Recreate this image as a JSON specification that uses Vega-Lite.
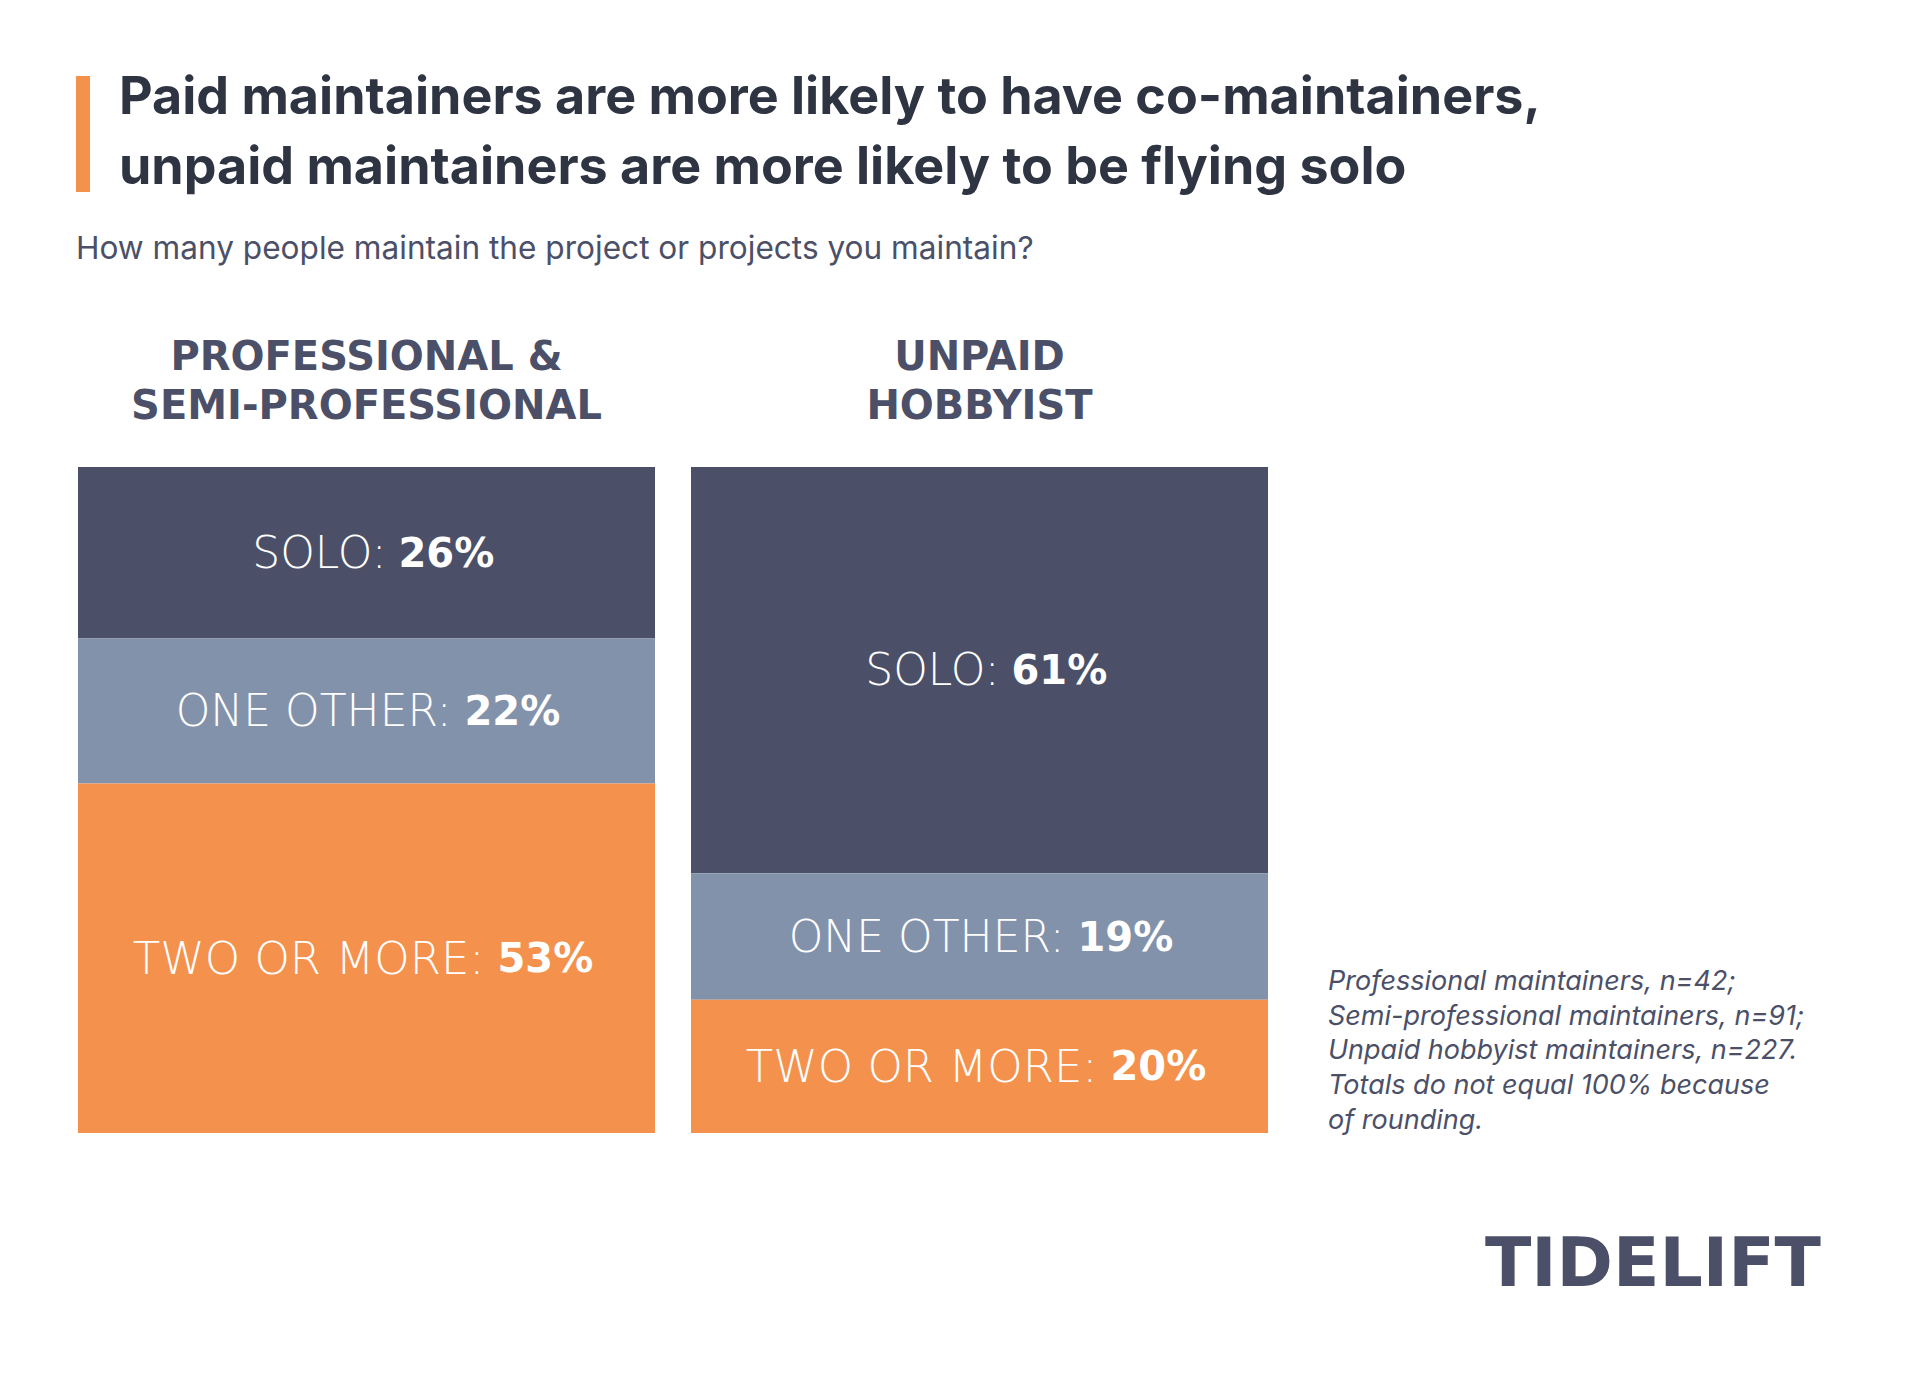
{
  "$schema": "https://vega.github.io/schema/vega-lite/v6.json",
  "width": 1190,
  "height": 666,
  "autosize": {"type": "none"},
  "padding": {"left": 78, "top": 467, "right": 651, "bottom": 258},
  "background": "#ffffff",
  "config": {"view": {"stroke": null}},
  "layer": [
    {
      "data": {
        "values": [
          {"group": "PROFESSIONAL & SEMI-PROFESSIONAL", "category": "Solo", "label": "SOLO:", "pct": 0.26, "ord": 3},
          {"group": "PROFESSIONAL & SEMI-PROFESSIONAL", "category": "One other", "label": "ONE OTHER:", "pct": 0.22, "ord": 2},
          {"group": "PROFESSIONAL & SEMI-PROFESSIONAL", "category": "Two or more", "label": "TWO OR MORE:", "pct": 0.53, "ord": 1},
          {"group": "UNPAID HOBBYIST", "category": "Solo", "label": "SOLO:", "pct": 0.61, "ord": 3},
          {"group": "UNPAID HOBBYIST", "category": "One other", "label": "ONE OTHER:", "pct": 0.19, "ord": 2},
          {"group": "UNPAID HOBBYIST", "category": "Two or more", "label": "TWO OR MORE:", "pct": 0.20, "ord": 1}
        ]
      },
      "transform": [
        {"stack": "pct", "groupby": ["group"], "sort": [{"field": "ord", "order": "ascending"}], "offset": "normalize", "as": ["y0", "y1"]},
        {"calculate": "(datum.y0 + datum.y1) / 2", "as": "mid"}
      ],
      "layer": [
        {
          "mark": {"type": "bar"},
          "encoding": {
            "x": {
              "field": "group", "type": "nominal",
              "scale": {"domain": ["PROFESSIONAL & SEMI-PROFESSIONAL", "UNPAID HOBBYIST"], "paddingInner": 0.0587, "paddingOuter": 0},
              "axis": {
                "orient": "top", "title": null, "domain": false, "ticks": false, "tickSize": 0, "labelAngle": 0,
                "labelExpr": "datum.value == 'UNPAID HOBBYIST' ? ['UNPAID', 'HOBBYIST'] : ['PROFESSIONAL &', 'SEMI-PROFESSIONAL']",
                "labelFont": "DejaVu Sans", "labelFontWeight": "bold", "labelFontSize": 40, "labelColor": "#4b5068",
                "labelLineHeight": 49, "labelPadding": 90, "labelLimit": 0
              }
            },
            "y": {"field": "y1", "type": "quantitative", "scale": {"domain": [0, 1], "nice": false, "zero": false}, "axis": null},
            "y2": {"field": "y0"},
            "color": {
              "field": "category", "type": "nominal",
              "scale": {"domain": ["Solo", "One other", "Two or more"], "range": ["#4b5068", "#8392ab", "#f4914d"]},
              "legend": null
            }
          }
        },
        {
          "transform": [{"filter": "datum.category == 'Solo'"}],
          "mark": {"type": "text", "align": "right", "baseline": "middle", "dx": 20, "dy": 2, "font": "DejaVu Sans", "fontWeight": 200, "fontSize": 44, "color": "#ffffff"},
          "encoding": {"x": {"field": "group", "type": "nominal"}, "y": {"field": "mid", "type": "quantitative", "axis": null}, "text": {"field": "label"}}
        },
        {
          "transform": [{"filter": "datum.category == 'One other'"}],
          "mark": {"type": "text", "align": "right", "baseline": "middle", "dx": 85, "dy": 2, "font": "DejaVu Sans", "fontWeight": 200, "fontSize": 44, "color": "#ffffff"},
          "encoding": {"x": {"field": "group", "type": "nominal"}, "y": {"field": "mid", "type": "quantitative", "axis": null}, "text": {"field": "label"}}
        },
        {
          "transform": [{"filter": "datum.category == 'Two or more'"}],
          "mark": {"type": "text", "align": "right", "baseline": "middle", "dx": 118, "dy": 2, "font": "DejaVu Sans", "fontWeight": 200, "fontSize": 45, "color": "#ffffff"},
          "encoding": {"x": {"field": "group", "type": "nominal"}, "y": {"field": "mid", "type": "quantitative", "axis": null}, "text": {"field": "label"}}
        },
        {
          "transform": [{"filter": "datum.category == 'Solo'"}],
          "mark": {"type": "text", "align": "left", "baseline": "middle", "dx": 32, "dy": 2, "font": "DejaVu Sans", "fontWeight": "bold", "fontSize": 40, "color": "#ffffff"},
          "encoding": {"x": {"field": "group", "type": "nominal"}, "y": {"field": "mid", "type": "quantitative", "axis": null}, "text": {"field": "pct", "type": "quantitative", "format": ".0%"}}
        },
        {
          "transform": [{"filter": "datum.category == 'One other'"}],
          "mark": {"type": "text", "align": "left", "baseline": "middle", "dx": 98, "dy": 2, "font": "DejaVu Sans", "fontWeight": "bold", "fontSize": 40, "color": "#ffffff"},
          "encoding": {"x": {"field": "group", "type": "nominal"}, "y": {"field": "mid", "type": "quantitative", "axis": null}, "text": {"field": "pct", "type": "quantitative", "format": ".0%"}}
        },
        {
          "transform": [{"filter": "datum.category == 'Two or more'"}],
          "mark": {"type": "text", "align": "left", "baseline": "middle", "dx": 131, "dy": 2, "font": "DejaVu Sans", "fontWeight": "bold", "fontSize": 40, "color": "#ffffff"},
          "encoding": {"x": {"field": "group", "type": "nominal"}, "y": {"field": "mid", "type": "quantitative", "axis": null}, "text": {"field": "pct", "type": "quantitative", "format": ".0%"}}
        }
      ]
    },
    {
      "data": {"values": [{"accent": "title accent"}]},
      "mark": {"type": "rule", "strokeWidth": 14, "color": "#f4914d", "strokeCap": "butt"},
      "encoding": {
        "x": {"datum": "PROFESSIONAL & SEMI-PROFESSIONAL", "type": "nominal", "bandPosition": 0.0087},
        "y": {"datum": 1.5871, "type": "quantitative", "axis": null},
        "y2": {"datum": 1.4129}
      }
    },
    {
      "data": {"values": [{"t": "Paid maintainers are more likely to have co-maintainers,\nunpaid maintainers are more likely to be flying solo"}]},
      "mark": {"type": "text", "align": "left", "baseline": "middle", "lineBreak": "\n", "lineHeight": 70, "dx": 41, "font": "Inter", "fontWeight": 700, "fontSize": 52, "color": "#2f3443"},
      "encoding": {
        "x": {"datum": "PROFESSIONAL & SEMI-PROFESSIONAL", "type": "nominal", "bandPosition": 0},
        "y": {"datum": 1.5541, "type": "quantitative", "axis": null},
        "text": {"field": "t"}
      }
    },
    {
      "data": {"values": [{"t": "How many people maintain the project or projects you maintain?"}]},
      "mark": {"type": "text", "align": "left", "baseline": "middle", "dx": -2, "font": "Inter", "fontWeight": 400, "fontSize": 31.6, "color": "#4b5068"},
      "encoding": {
        "x": {"datum": "PROFESSIONAL & SEMI-PROFESSIONAL", "type": "nominal", "bandPosition": 0},
        "y": {"datum": 1.3258, "type": "quantitative", "axis": null},
        "text": {"field": "t"}
      }
    },
    {
      "data": {"values": [{"t": "Professional maintainers, n=42;\nSemi-professional maintainers, n=91;\nUnpaid hobbyist maintainers, n=227.\nTotals do not equal 100% because\nof rounding."}]},
      "mark": {"type": "text", "align": "left", "baseline": "middle", "lineBreak": "\n", "lineHeight": 34.7, "dx": 60, "font": "Inter", "fontStyle": "italic", "fontSize": 27, "color": "#4b5068"},
      "encoding": {
        "x": {"datum": "UNPAID HOBBYIST", "type": "nominal", "bandPosition": 1},
        "y": {"datum": 0.2267, "type": "quantitative", "axis": null},
        "text": {"field": "t"}
      }
    },
    {
      "data": {"values": [{"t": "TIDELIFT"}]},
      "mark": {"type": "text", "align": "right", "baseline": "middle", "dx": 553, "font": "DejaVu Sans", "fontWeight": "bold", "fontSize": 68, "color": "#4b5068"},
      "encoding": {
        "x": {"datum": "UNPAID HOBBYIST", "type": "nominal", "bandPosition": 1},
        "y": {"datum": -0.1997, "type": "quantitative", "axis": null},
        "text": {"field": "t"}
      }
    }
  ]
}
